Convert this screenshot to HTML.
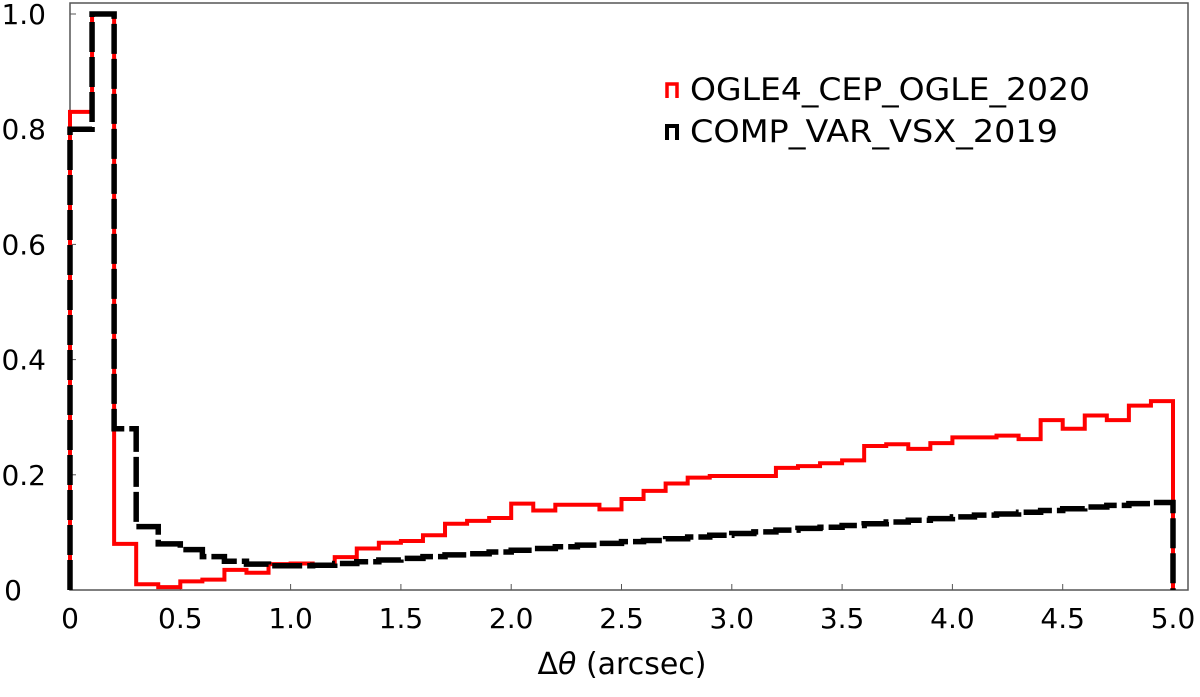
<!DOCTYPE html>
<html><head><meta charset="utf-8"><style>
body{margin:0;background:#fff;}
svg text{font-family:"DejaVu Sans","Liberation Sans",sans-serif;}
</style></head><body>
<svg id="chart" width="1200" height="692" xmlns="http://www.w3.org/2000/svg">
<rect x="70" y="3" width="1118" height="587" fill="none" stroke="#555" stroke-width="1.5"/>
<g id="ticks"></g>
<g id="series"></g>
<text x="622" y="674" font-size="30" text-anchor="middle">Δ<tspan font-style="italic">θ</tspan> (arcsec)</text>
<g>
<path d="M667 98 V84 H677 V98" fill="none" stroke="#f00" stroke-width="3.5"/>
<text x="690" y="100" font-size="31" textLength="400" lengthAdjust="spacingAndGlyphs">OGLE4_CEP_OGLE_2020</text>
<path d="M667 140 V126 H677 V140" fill="none" stroke="#000" stroke-width="4"/>
<text x="690" y="142" font-size="31" textLength="368" lengthAdjust="spacingAndGlyphs">COMP_VAR_VSX_2019</text>
</g>
</svg>
<script>
const binEdges0 = 0, binWidth = 0.1;
const ogleValues = [0.83,1.0,0.08,0.01,0.005,0.015,0.018,0.035,0.03,0.045,0.046,0.042,0.057,0.072,0.082,0.085,0.095,0.115,0.12,0.125,0.15,0.138,0.148,0.148,0.14,0.158,0.172,0.185,0.195,0.198,0.198,0.198,0.212,0.215,0.22,0.225,0.25,0.253,0.245,0.255,0.265,0.265,0.268,0.262,0.295,0.28,0.303,0.295,0.32,0.328];
const vsxValues = [0.8,1.0,0.28,0.11,0.08,0.07,0.058,0.05,0.045,0.042,0.042,0.043,0.046,0.049,0.052,0.055,0.058,0.061,0.063,0.066,0.069,0.072,0.075,0.078,0.081,0.084,0.086,0.089,0.092,0.095,0.098,0.101,0.104,0.107,0.109,0.112,0.115,0.118,0.121,0.124,0.127,0.13,0.132,0.135,0.138,0.141,0.144,0.147,0.15,0.152];
const xTicks = [0,0.5,1.0,1.5,2.0,2.5,3.0,3.5,4.0,4.5,5.0];
const xTickLabels = ["0","0.5","1.0","1.5","2.0","2.5","3.0","3.5","4.0","4.5","5.0"];
const yTicks = [0,0.2,0.4,0.6,0.8,1.0];
const yTickLabels = ["0","0.2","0.4","0.6","0.8","1.0"];
const NS="http://www.w3.org/2000/svg";
const xs = v => 70 + v*220.6;
const ys = v => 590 - v*576;
const tg=document.getElementById('ticks');
xTicks.forEach((t,i)=>{
  const l=document.createElementNS(NS,'line');
  
  
  l.setAttribute('x1',xs(t));l.setAttribute('x2',xs(t));l.setAttribute('y1',590);l.setAttribute('y2',584);
  l.setAttribute('stroke','#555');tg.appendChild(l);
  const tx=document.createElementNS(NS,'text');
  
  
  tx.setAttribute('x',xs(t));tx.setAttribute('y',628);tx.setAttribute('font-size','28');
  tx.setAttribute('text-anchor','middle');tx.textContent=xTickLabels[i];tg.appendChild(tx);
});
yTicks.forEach((t,i)=>{
  const l=document.createElementNS(NS,'line');
  
  
  l.setAttribute('x1',70);l.setAttribute('x2',76);l.setAttribute('y1',ys(t));l.setAttribute('y2',ys(t));
  l.setAttribute('stroke','#555');tg.appendChild(l);
  const tx=document.createElementNS(NS,'text');
  
  
  tx.setAttribute('x',i==0?22:46);tx.setAttribute('y',ys(t)+10);tx.setAttribute('font-size','28');
  tx.setAttribute('text-anchor','end');tx.textContent=yTickLabels[i];tg.appendChild(tx);
});
function stepPath(vals){
  let d='M'+xs(binEdges0)+' '+ys(0);
  vals.forEach((v,i)=>{const x0=xs(binEdges0+i*binWidth),x1=xs(binEdges0+(i+1)*binWidth);d+=' L'+x0+' '+ys(v)+' L'+x1+' '+ys(v);});
  d+=' L'+xs(binEdges0+vals.length*binWidth)+' '+ys(0);
  return d;
}
const sg=document.getElementById('series');
const pr=document.createElementNS(NS,'path');


pr.setAttribute('d',stepPath(ogleValues));pr.setAttribute('fill','none');pr.setAttribute('stroke','#f00');pr.setAttribute('stroke-width','4');
sg.appendChild(pr);
const pb=document.createElementNS(NS,'path');


pb.setAttribute('d',stepPath(vsxValues));pb.setAttribute('fill','none');pb.setAttribute('stroke','#000');pb.setAttribute('stroke-width','5.5');pb.setAttribute('stroke-dasharray','30 5');
sg.appendChild(pb);
</script>
</body></html>
